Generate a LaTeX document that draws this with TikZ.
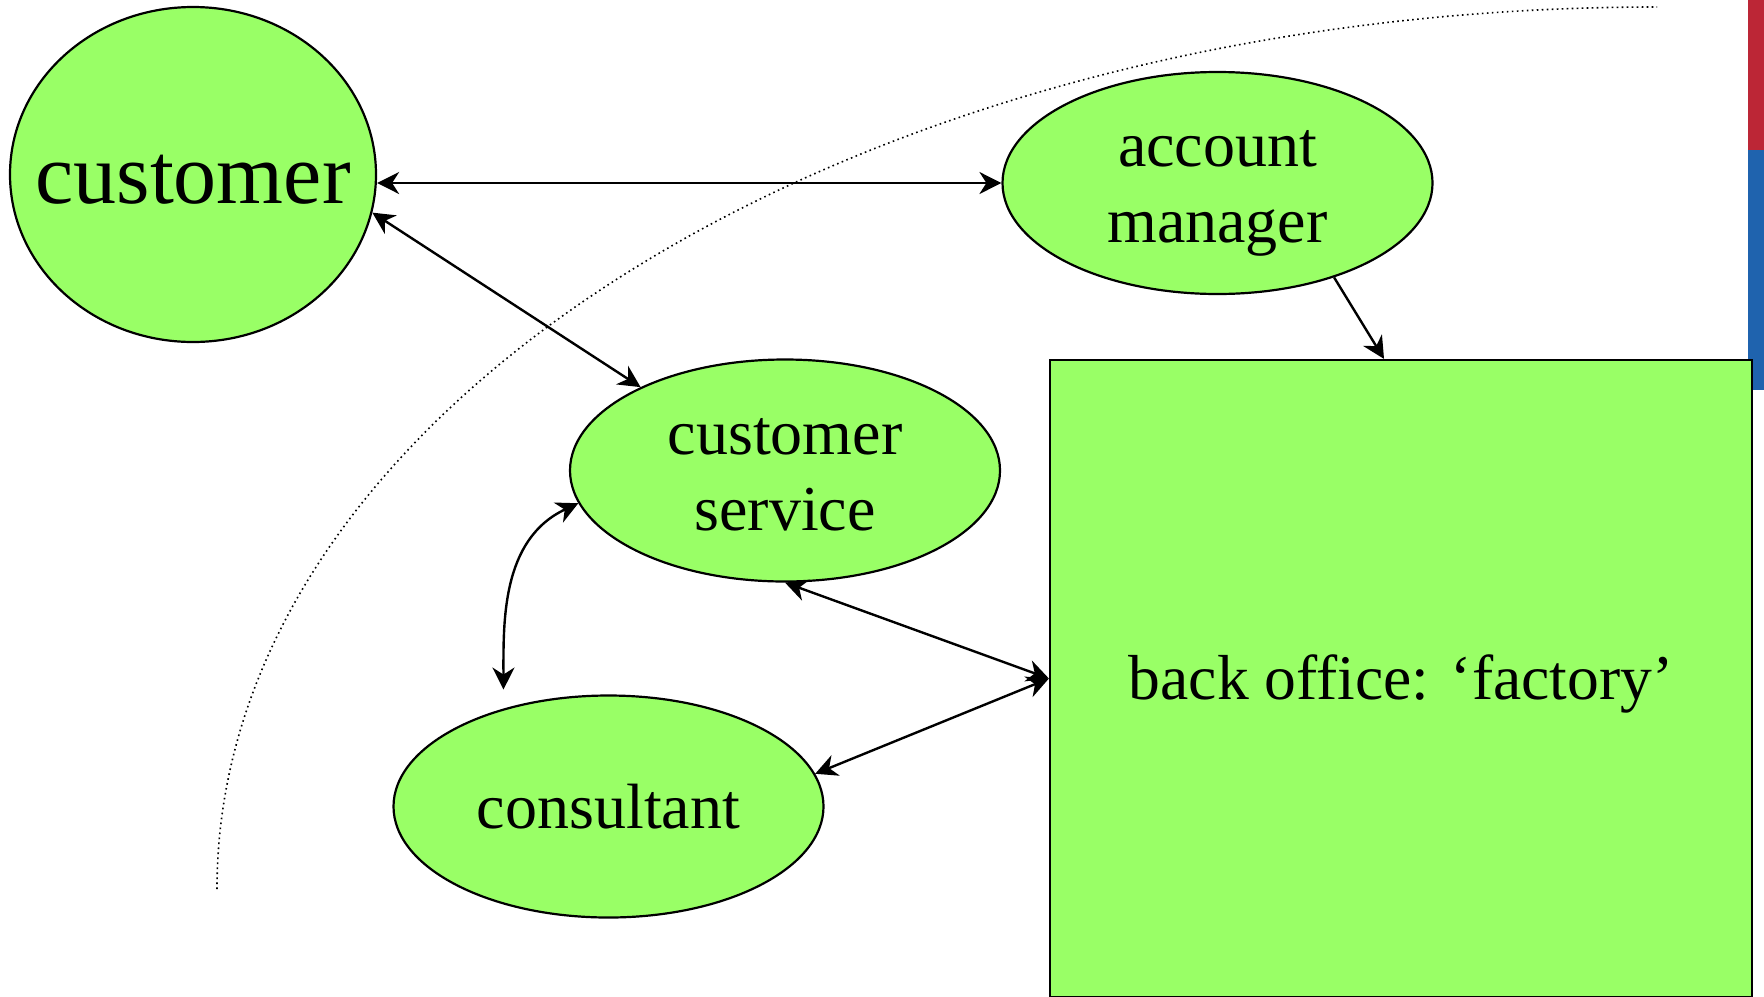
\documentclass[tikz,border=0pt]{standalone}
\usepackage{fontspec}
\setmainfont{Liberation Serif}
\usetikzlibrary{arrows.meta,shapes.geometric}
\definecolor{nodegreen}{HTML}{99FF66}
\definecolor{barred}{HTML}{BC2636}
\definecolor{barblue}{HTML}{1F63AE}
\newcommand{\mystrut}{\rule[-0.216em]{0pt}{1.107em}}
\begin{document}
\begin{tikzpicture}[x=0.5pt,y=-0.5pt,
  bubble/.style={ellipse, draw, line width=1.1pt, fill=nodegreen, inner sep=0pt, align=center,
    minimum width=215pt, minimum height=111pt, font=\fontsize{32}{38}\selectfont},
  link/.style={line width=1.2pt, {Stealth[length=11pt,width=11pt,inset=3.5pt]}-{Stealth[length=11pt,width=11pt,inset=3.5pt]}},
  onelink/.style={line width=1.2pt, -{Stealth[length=11pt,width=11pt,inset=3.5pt]}},
  boundary/.style={line width=0.8pt, dash pattern=on 0.8pt off 1.7pt},
]
\useasboundingbox (0,0) rectangle (1764,996);
\fill[barred] (1748,0) rectangle (1764,150);
\fill[barblue] (1748,150) rectangle (1764,390);
\draw[boundary] (217,889) .. controls (217,402) and (862,7) .. (1657,7);
\node[bubble, minimum width=183pt, minimum height=167.5pt, inner xsep=-16pt,
  font=\fontsize{43}{50}\selectfont] (customer) at (193,174.5) {\mystrut customer};
\node[bubble] (account) at (1217.5,183) {\mystrut account\\\mystrut manager};
\node[bubble] (service) at (785,470.5) {\mystrut customer\\\mystrut service};
\node[bubble] (consultant) at (608.5,806.5) {\mystrut consultant};
\node[draw, line width=1.1pt, fill=nodegreen, minimum width=351pt, minimum height=318.5pt, inner sep=0pt,
  font=\fontsize{31.8}{38}\selectfont] (box) at (1401,678.5) {\mystrut back office: ‘factory’};
\draw[link] (customer.east |- account.west) -- (account.west);
\draw[link] (customer.-12.6) -- (service.150);
\draw[link, shorten >=9.5pt] (service.189) to[out=205,in=90] (consultant.137);
\draw[link] (service.south) -- (box.west);
\draw[link] (consultant.9) -- (box.west);
\draw[onelink] (account.-39) -- ([xshift=-8.5pt]box.north);
\end{tikzpicture}
\end{document}
